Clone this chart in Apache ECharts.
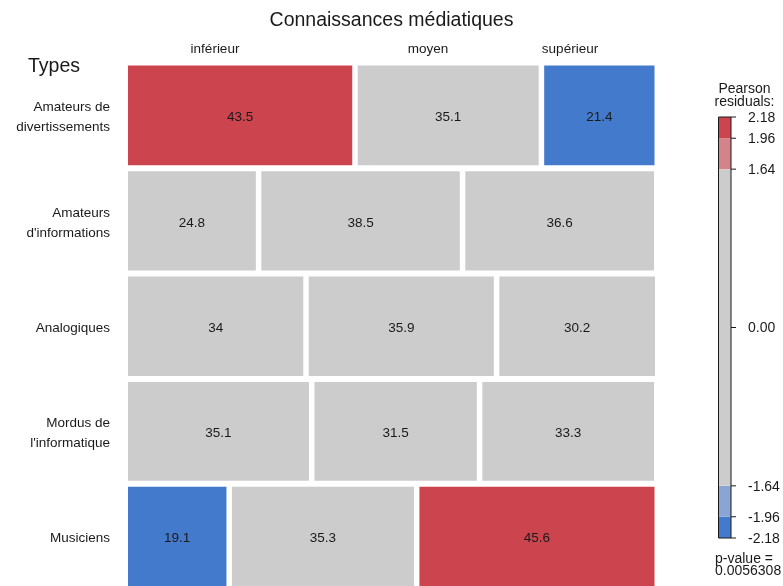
<!DOCTYPE html>
<html>
<head>
<meta charset="utf-8">
<script src="https://cdn.jsdelivr.net/npm/echarts@6/dist/echarts.min.js"></script>
<style>
  html, body { margin: 0; padding: 0; background: #ffffff; }
  #chart { width: 783px; height: 586px; }
</style>
</head>
<body>
<div id="chart"></div>
<script>
// Mosaic of media literacy level by user type, shaded by Pearson residuals
const types = ['Amateurs de\ndivertissements', "Amateurs\nd'informations", 'Analogiques', "Mordus de\nl'informatique", 'Musiciens'];
const levels = ['inférieur', 'moyen', 'supérieur'];
// share of each type in the sample (row heights)
const rowShare = [20.1, 20.0, 20.0, 19.9, 20.0];
// row percentages per level
const pctInferieur = [43.5, 24.8, 34, 35.1, 19.1];
const pctMoyen = [35.1, 38.5, 35.9, 31.5, 35.3];
const pctSuperieur = [21.4, 36.6, 30.2, 33.3, 45.6];
// Pearson residuals per cell
const residInferieur = [2.06, -1.10, 0.45, 0.62, -2.05];
const residMoyen = [-0.02, 0.60, 0.12, -0.70, 0.01];
const residSuperieur = [-2.18, 0.55, -0.55, 0.00, 2.18];
// colour key
const keyBreaks = [-2.18, -1.96, -1.64, 1.64, 1.96, 2.18];
const keyTicks = [2.18, 1.96, 1.64, 0, -1.64, -1.96, -2.18];
const keyTickLabels = ['2.18', '1.96', '1.64', '0.00', '-1.64', '-1.96', '-2.18'];
const pValue = '0.0056308';

const FONT = 'Liberation Sans, Arial, Helvetica, sans-serif';
const GAP_X = 5.5, GAP_Y = 6;
const COLORS = {
  posHigh: '#cc444e', posMid: '#d4838a', neutral: '#cccccc', negMid: '#8aa5d4', negHigh: '#447acc'
};

function shade(r) {
  if (r > 1.96) return COLORS.posHigh;
  if (r > 1.64) return COLORS.posMid;
  if (r < -1.96) return COLORS.negHigh;
  if (r < -1.64) return COLORS.negMid;
  return COLORS.neutral;
}

const pctCols = [pctInferieur, pctMoyen, pctSuperieur];
const residCols = [residInferieur, residMoyen, residSuperieur];

// one item per cell: [row, col, percent, residual]
const cells = [];
types.forEach((t, r) => {
  levels.forEach((l, c) => {
    cells.push([r, c, pctCols[c][r], residCols[c][r]]);
  });
});

const rowTotal = rowShare.reduce((a, b) => a + b, 0);

function renderCell(params, api) {
  const r = api.value(0), c = api.value(1), pct = api.value(2), res = api.value(3);
  const origin = api.coord([0, 0]);
  const far = api.coord([100, rowTotal]);
  const W = far[0] - origin[0], H = far[1] - origin[1];
  const kx = (W - GAP_X * (levels.length - 1)) / W;
  const ky = (H - GAP_Y * (types.length - 1)) / H;

  let cumX = 0;
  for (let i = 0; i < c; i++) cumX += pctCols[i][r];
  let cumY = 0;
  for (let j = 0; j < r; j++) cumY += rowShare[j];

  const p0 = api.coord([cumX * kx, cumY * ky]);
  const p1 = api.coord([(cumX + pct) * kx, (cumY + rowShare[r]) * ky]);
  const x = p0[0] + c * GAP_X, y = p0[1] + r * GAP_Y;
  const w = p1[0] - p0[0], h = p1[1] - p0[1];

  const children = [{
    type: 'rect',
    shape: { x: x, y: y, width: w, height: h },
    style: { fill: shade(res) }
  }, {
    type: 'text',
    x: x + w / 2, y: y + h / 2 + 2,
    style: {
      text: String(pct), fill: '#1a1a1a', font: '13.5px ' + FONT,
      align: 'center', verticalAlign: 'middle'
    }
  }];
  if (c === 0) {
    children.push({
      type: 'text',
      x: origin[0] - 18, y: y + h / 2 + 2,
      style: {
        text: types[r], fill: '#1a1a1a', font: '13.5px ' + FONT,
        align: 'right', verticalAlign: 'middle', lineHeight: 20
      }
    });
  }
  return { type: 'group', children: children };
}

// colour key segments: [lower, upper]
const keySegments = [];
for (let i = 0; i < keyBreaks.length - 1; i++) keySegments.push([keyBreaks[i], keyBreaks[i + 1]]);

function renderKeySegment(params, api) {
  const lo = api.value(0), hi = api.value(1);
  const a = api.coord([0, hi]), b = api.coord([1, lo]);
  const mid = (lo + hi) / 2;
  return {
    type: 'rect',
    shape: { x: a[0], y: a[1], width: b[0] - a[0], height: b[1] - a[1] },
    style: { fill: shade(mid) }
  };
}

function renderKeyTick(params, api) {
  const v = api.value(0);
  const p = api.coord([1, v]);
  return {
    type: 'group',
    children: [{
      type: 'line',
      shape: { x1: p[0], y1: p[1], x2: p[0] + 5, y2: p[1] },
      style: { stroke: '#1a1a1a', lineWidth: 1 }
    }, {
      type: 'text',
      x: p[0] + 17, y: p[1] + 1,
      style: {
        text: keyTickLabels[params.dataIndex], fill: '#1a1a1a', font: '14px ' + FONT,
        align: 'left', verticalAlign: 'middle'
      }
    }]
  };
}

function renderKeyFrame(params, api) {
  const a = api.coord([0, keyBreaks[keyBreaks.length - 1]]);
  const b = api.coord([1, keyBreaks[0]]);
  return {
    type: 'rect',
    shape: { x: a[0], y: a[1], width: b[0] - a[0], height: b[1] - a[1] },
    style: { fill: 'none', stroke: '#1a1a1a', lineWidth: 1 }
  };
}

const chart = echarts.init(document.getElementById('chart'), null, { renderer: 'canvas' });

chart.setOption({
  backgroundColor: '#ffffff',
  animation: false,
  grid: [
    { left: 128, top: 65.5, width: 526.5, height: 526, containLabel: false },
    { left: 718.5, top: 117, width: 12.5, height: 421, containLabel: false }
  ],
  xAxis: [
    { type: 'value', gridIndex: 0, min: 0, max: 100, show: false },
    { type: 'value', gridIndex: 1, min: 0, max: 1, show: false }
  ],
  yAxis: [
    { type: 'value', gridIndex: 0, min: 0, max: rowTotal, inverse: true, show: false },
    { type: 'value', gridIndex: 1, min: keyBreaks[0], max: keyBreaks[keyBreaks.length - 1], show: false }
  ],
  graphic: [
    {
      type: 'text', x: 391.5, y: 20.5,
      style: { text: 'Connaissances médiatiques', fill: '#1a1a1a', font: '19.5px ' + FONT, align: 'center', verticalAlign: 'middle' }
    },
    {
      type: 'text', x: 28, y: 66.5,
      style: { text: 'Types', fill: '#1a1a1a', font: '19.5px ' + FONT, align: 'left', verticalAlign: 'middle' }
    },
    {
      type: 'text', x: 215, y: 49,
      style: { text: levels[0], fill: '#1a1a1a', font: '13.5px ' + FONT, align: 'center', verticalAlign: 'middle' }
    },
    {
      type: 'text', x: 428, y: 49,
      style: { text: levels[1], fill: '#1a1a1a', font: '13.5px ' + FONT, align: 'center', verticalAlign: 'middle' }
    },
    {
      type: 'text', x: 570, y: 49,
      style: { text: levels[2], fill: '#1a1a1a', font: '13.5px ' + FONT, align: 'center', verticalAlign: 'middle' }
    },
    {
      type: 'text', x: 744.5, y: 95.5,
      style: { text: 'Pearson\nresiduals:', fill: '#1a1a1a', font: '14px ' + FONT, align: 'center', verticalAlign: 'middle', lineHeight: 13 }
    },
    {
      type: 'text', x: 715, y: 565,
      style: { text: 'p-value =\n' + pValue, fill: '#1a1a1a', font: '14px ' + FONT, align: 'left', verticalAlign: 'middle', lineHeight: 12 }
    }
  ],
  series: [
    {
      type: 'custom', xAxisIndex: 0, yAxisIndex: 0, clip: false,
      renderItem: renderCell, data: cells
    },
    {
      type: 'custom', xAxisIndex: 1, yAxisIndex: 1, clip: false,
      renderItem: renderKeySegment, data: keySegments
    },
    {
      type: 'custom', xAxisIndex: 1, yAxisIndex: 1, clip: false,
      renderItem: renderKeyFrame, data: [[0]]
    },
    {
      type: 'custom', xAxisIndex: 1, yAxisIndex: 1, clip: false,
      renderItem: renderKeyTick, data: keyTicks.map(v => [v])
    }
  ]
});
</script>
</body>
</html>
